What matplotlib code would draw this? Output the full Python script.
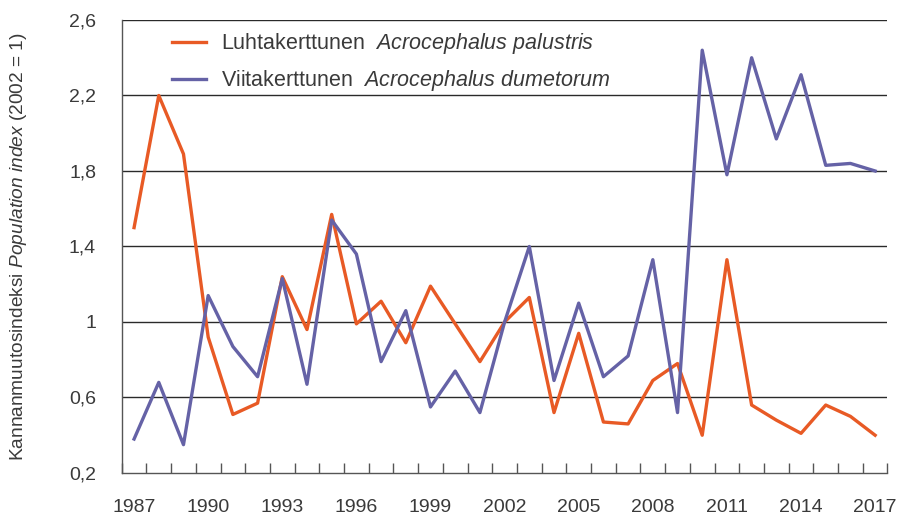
import numpy as np
import matplotlib
matplotlib.use("Agg")
from matplotlib import pyplot as plt

plt.rcParams["font.family"] = ["Liberation Sans", "DejaVu Sans"]
plt.rcParams["mathtext.fontset"] = "custom"
plt.rcParams["mathtext.rm"] = "Liberation Sans"
plt.rcParams["mathtext.it"] = "Liberation Sans:italic"

years = list(range(1987, 2018))

luhtakerttunen = [
    1.50, 2.20, 1.89, 0.92, 0.51, 0.57, 1.24, 0.96, 1.57, 0.99,
    1.11, 0.89, 1.19, 0.99, 0.79, 1.00, 1.13, 0.52, 0.94, 0.47,
    0.46, 0.69, 0.78, 0.40, 1.33, 0.56, 0.48, 0.41, 0.56, 0.50,
    0.40,
]
viitakerttunen = [
    0.38, 0.68, 0.35, 1.14, 0.87, 0.71, 1.23, 0.67, 1.54, 1.36,
    0.79, 1.06, 0.55, 0.74, 0.52, 1.00, 1.40, 0.69, 1.10, 0.71,
    0.82, 1.33, 0.52, 2.44, 1.78, 2.40, 1.97, 2.31, 1.83, 1.84,
    1.80,
]

y_ticks = [0.2, 0.6, 1.0, 1.4, 1.8, 2.2, 2.6]
y_tick_labels = ["0,2", "0,6", "1", "1,4", "1,8", "2,2", "2,6"]
x_label_years = list(range(1987, 2018, 3))

text_color = "#3a3a3a"
orange = "#e85a25"
purple = "#6562a6"

fig = plt.figure(figsize=(8.97, 5.18), dpi=100)
ax = fig.add_axes([0.1357, 0.0869, 0.8537, 0.8745])

ax.plot(years, luhtakerttunen, color=orange, lw=2.4,
        label=r"Luhtakerttunen  $\it{Acrocephalus\ palustris}$")
ax.plot(years, viitakerttunen, color=purple, lw=2.4,
        label=r"Viitakerttunen  $\it{Acrocephalus\ dumetorum}$")

ax.set_xlim(1986.5, 2017.5)
ax.set_ylim(0.2, 2.6)

for y in y_ticks[1:]:
    ax.axhline(y, color="#2a2a2a", lw=1.0, zorder=0)

ax.set_yticks(y_ticks)
ax.set_yticklabels(y_tick_labels)
ax.tick_params(axis="y", length=0, pad=18.5, labelsize=14, labelcolor=text_color)

ax.set_xticks(x_label_years)
ax.set_xticks(np.arange(1986.5, 2018, 1.0), minor=True)
ax.tick_params(axis="x", which="major", length=0, pad=19, labelsize=14,
               labelcolor=text_color)
ax.tick_params(axis="x", which="minor", direction="in", length=7, width=1,
               color="#555555")

for side in ["top", "right"]:
    ax.spines[side].set_visible(False)
for side in ["left", "bottom"]:
    ax.spines[side].set_color("#555555")
    ax.spines[side].set_linewidth(1.0)

ax.set_ylabel(r"Kannanmuutosindeksi $\it{Population\ index}$ (2002 = 1)",
              fontsize=13.8, color=text_color)
ax.yaxis.set_label_coords(-0.121, 0.5)

leg = ax.legend(loc="upper left", bbox_to_anchor=(0.0653, 0.975), frameon=False,
                fontsize=15.5, handlelength=1.6, handletextpad=0.7,
                labelspacing=0.55, borderaxespad=0, borderpad=0)
for t in leg.get_texts():
    t.set_color(text_color)

fig.savefig("out.png", dpi=100)
